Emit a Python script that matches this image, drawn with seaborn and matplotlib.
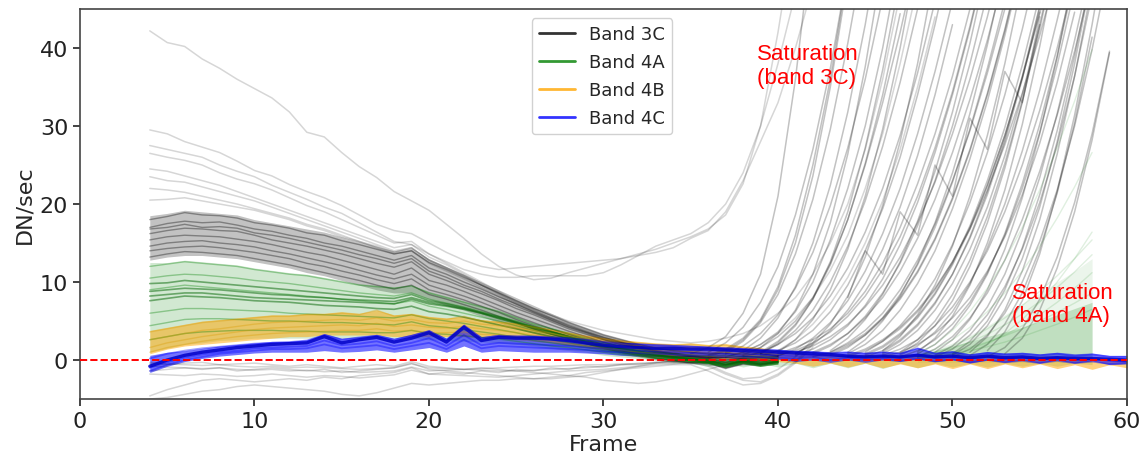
import numpy as np
import pandas as pd
import matplotlib
matplotlib.use("Agg")
import matplotlib.pyplot as plt
from matplotlib.lines import Line2D
import seaborn as sns

FIRST_FRAME = 4

# ---------------- Band 3C ----------------
b3c_core_hi = [18.5, 18.8, 19.2, 19.0, 18.8, 18.6, 18.0, 17.6, 17.2, 16.8, 16.4, 15.8, 15.2, 14.6,
               14.0, 14.4, 13.0, 12.0, 11.0, 10.0, 9.0, 8.0, 7.0, 6.0, 5.0, 4.2, 3.4, 2.8, 2.2, 1.7,
               1.4, 1.2, 1.0, 1.0, 1.0, 0.9, 0.9]
b3c_core_lo = [12.8, 13.2, 13.4, 13.4, 13.2, 13.0, 12.6, 12.2, 11.8, 11.2, 10.8, 10.2, 9.6, 9.0,
               8.6, 8.6, 7.8, 7.0, 6.4, 5.6, 4.8, 4.0, 3.4, 2.8, 2.2, 1.7, 1.2, 0.8, 0.4, 0.0,
               -0.3, -0.5, -0.6, -1.0, -0.6, -0.8, -0.5]

b3c_core_1 = [18.0, 18.4, 18.9, 18.6, 18.5, 18.2, 17.6, 17.3, 16.9, 16.3, 16.0, 15.3, 14.8, 14.2, 13.6, 14.0,
              12.5, 11.6, 10.6, 9.6, 8.6, 7.6, 6.6, 5.7, 4.8, 4.0, 3.2, 2.6, 2.0, 1.5, 1.2, 1.0, 0.8, 0.9,
              0.7, 0.8, 0.6]
b3c_core_2 = [17.0, 17.5, 17.8, 17.6, 17.7, 17.3, 16.8, 16.5, 16.0, 15.6, 15.0, 14.6, 14.0, 13.4, 12.8, 13.4,
              11.8, 11.0, 10.0, 9.1, 8.1, 7.2, 6.2, 5.3, 4.4, 3.6, 2.9, 2.3, 1.8, 1.2, 0.9, 0.6, 0.5, 0.3,
              0.5, 0.4, 0.5]
b3c_core_3 = [16.2, 16.6, 16.9, 16.8, 16.6, 16.5, 16.0, 15.4, 15.0, 14.6, 14.1, 13.6, 13.0, 12.4, 11.9, 12.6,
              11.0, 10.2, 9.3, 8.5, 7.6, 6.6, 5.8, 4.9, 4.0, 3.3, 2.6, 2.0, 1.5, 0.9, 0.6, 0.4, 0.2, -0.3,
              0.2, 0.0, 0.3]
b3c_core_4 = [15.4, 15.8, 16.0, 15.9, 15.8, 15.5, 15.2, 14.8, 14.3, 13.8, 13.4, 12.8, 12.2, 11.6, 11.0, 11.8,
              10.2, 9.6, 8.8, 7.9, 7.0, 6.1, 5.3, 4.5, 3.7, 3.0, 2.3, 1.7, 1.2, 0.7, 0.4, 0.1, 0.0, -0.6,
              -0.1, -0.3, 0.1]
b3c_core_5 = [14.6, 15.0, 15.2, 15.3, 15.0, 14.8, 14.5, 14.0, 13.6, 13.1, 12.6, 12.1, 11.5, 10.9, 10.4, 11.0,
              9.6, 8.9, 8.2, 7.4, 6.5, 5.6, 4.8, 4.0, 3.3, 2.6, 2.0, 1.4, 1.0, 0.5, 0.2, -0.1, -0.2, -0.8,
              -0.3, -0.5, -0.1]
b3c_core_6 = [14.0, 14.3, 14.5, 14.6, 14.4, 14.1, 13.8, 13.4, 13.0, 12.4, 12.0, 11.4, 10.9, 10.3, 9.8, 10.4,
              9.0, 8.4, 7.7, 6.9, 6.1, 5.2, 4.4, 3.7, 3.0, 2.3, 1.7, 1.2, 0.8, 0.3, 0.0, -0.3, -0.3, -1.0,
              -0.4, -0.6, -0.2]
b3c_core_7 = [13.2, 13.6, 13.9, 13.8, 13.6, 13.4, 13.0, 12.6, 12.2, 11.7, 11.2, 10.7, 10.2, 9.6, 9.1, 9.6,
              8.4, 7.8, 7.1, 6.4, 5.6, 4.8, 4.0, 3.3, 2.7, 2.1, 1.5, 1.0, 0.6, 0.2, -0.1, -0.4, -0.4, -1.1,
              -0.5, -0.7, -0.3]
b3c_core_8 = [16.8, 17.0, 17.4, 17.0, 17.1, 16.9, 16.3, 16.0, 15.6, 15.1, 14.6, 14.1, 13.5, 13.0, 12.4, 13.0,
              11.4, 10.6, 9.6, 8.8, 7.8, 6.9, 6.0, 5.1, 4.2, 3.5, 2.7, 2.2, 1.6, 1.1, 0.8, 0.5, 0.4, 0.0,
              0.3, 0.2, 0.4]

b3c_high_1 = [42.2, 40.7, 40.2, 38.6, 37.4, 36.0, 34.8, 33.6, 31.8, 29.2, 28.6, 26.6, 24.8, 23.4, 21.6, 20.4,
              19.2, 17.4, 15.6, 13.6, 12.0, 10.9, 10.3, 10.5, 11.2, 11.8, 12.4, 13.0, 13.6, 14.2, 15.0, 15.8,
              16.8, 18.6, 22.6, 30.0, 42.0, 56.0]
b3c_high_2 = [29.5, 29.0, 28.0, 27.3, 26.6, 25.5, 24.3, 23.6, 22.5, 21.6, 20.8, 19.8, 18.6, 17.4, 16.6, 16.2,
              15.0, 13.8, 12.8, 12.0, 11.6, 11.8, 12.0, 12.2, 12.4, 12.6, 12.8, 13.0, 13.4, 13.8, 14.4, 15.6,
              16.6, 19.0, 23.0, 28.0, 33.0, 40.0, 48.0]
b3c_high_3 = [27.5, 27.0, 26.5, 26.0, 25.0, 24.2, 23.5, 22.4, 21.5, 20.6, 19.6, 18.8, 17.6, 16.4, 15.2, 14.8,
              13.6, 12.6, 11.6, 11.0, 10.6, 10.6, 10.8, 10.8, 10.8, 10.8, 11.2, 12.2, 13.4, 14.6, 15.4, 16.2,
              17.6, 20.0, 24.0, 30.0, 38.0, 47.0]
b3c_high_4 = [26.5, 26.0, 25.6, 25.0, 24.0, 23.2, 22.6, 21.8, 20.8, 19.8, 19.0, 18.0, 17.0, 16.0, 15.0, 15.2,
              13.6, 12.4, 11.2, 10.0, 8.8, 7.6, 6.6, 5.8, 5.0, 4.4, 3.8, 3.4, 3.0, 2.6, 2.4, 2.2, 2.4, 2.8,
              3.4, 4.4, 6.0, 8.0, 11.0, 15.0, 20.0, 27.0, 36.0, 47.0]
b3c_high_5 = [24.5, 24.2, 23.6, 23.0, 22.4, 21.6, 20.8, 20.0, 19.2, 18.4, 17.6, 16.8, 16.0, 15.2, 14.4, 14.8,
              13.2, 12.2, 11.0, 9.8, 8.6, 7.4, 6.4, 5.4, 4.6, 3.8, 3.0, 2.4, 1.8, 1.2, 0.8, 0.6, 0.4, 0.2,
              0.4, 0.4, 0.6]
b3c_high_6 = [23.5, 23.0, 22.8, 22.2, 21.6, 21.0, 20.4, 19.6, 18.8, 18.0, 17.2, 16.4, 15.6, 14.8, 14.0, 14.4,
              12.8, 11.8, 10.8, 9.6, 8.4, 7.2, 6.2, 5.2, 4.3, 3.6, 2.8, 2.2, 1.6, 1.0, 0.6, 0.4, 0.2, 0.0,
              0.2, 0.2, 0.4]
b3c_high_7 = [22.0, 21.8, 21.5, 21.0, 20.5, 20.0, 19.4, 18.8, 18.2, 17.4, 16.8, 16.0, 15.2, 14.4, 13.6, 14.0,
              12.4, 11.4, 10.4, 9.3, 8.2, 7.1, 6.1, 5.1, 4.2, 3.4, 2.6, 2.0, 1.4, 0.8, 0.4, 0.2, 0.0, -0.4,
              0.0, -0.1, 0.2]
b3c_high_8 = [20.5, 20.6, 20.8, 20.4, 20.0, 19.6, 19.2, 18.6, 18.0, 17.2, 16.6, 15.8, 15.2, 14.6, 13.8, 14.4,
              12.8, 11.8, 10.8, 9.6, 8.5, 7.4, 6.4, 5.4, 4.5, 3.7, 2.9, 2.3, 1.7, 1.1, 0.7, 0.4, 0.2, -0.2,
              0.2, 0.0, 0.3]

b3c_low_1 = [-4.6, -3.8, -3.2, -2.6, -2.4, -2.6, -2.8, -2.6, -2.4, -2.6, -2.2, -2.4, -2.0, -1.8, -1.6, -1.0,
             -1.8, -1.6, -1.8, -1.4, -1.6, -1.2, -1.4, -1.0, -1.2, -0.8, -0.9, -0.6, -0.6, -0.3, -0.2, 0.0,
             0.2, 0.4, 1.0, 2.0, 3.4, 5.4, 8.0, 11.5, 16.0, 22.0, 29.0, 38.0, 48.0]
b3c_low_2 = [-5.0, -4.8, -4.4, -4.0, -3.8, -3.4, -3.2, -3.4, -3.6, -3.8, -4.0, -4.4, -4.6, -4.2, -3.6, -3.0,
             -3.2, -3.0, -2.8, -2.6, -2.6, -2.4, -2.4, -2.2, -2.0, -1.6, -1.4, -1.2, -1.0, -0.8, -0.6, -0.6,
             -1.4, -2.4, -3.2, -3.0, -2.0, -0.4, 1.6]
b3c_low_3 = [-1.4, -1.2, -1.0, -1.2, -1.0, -1.4, -1.2, -1.0, -1.2, -1.4, -1.2, -1.6, -1.4, -1.2, -1.0, -0.4,
             -1.2, -1.4, -1.6, -1.8, -2.0, -2.2, -2.4, -2.4, -2.2, -2.0, -1.6, -1.2, -0.8, -0.4, -0.2, 0.0,
             -0.6, -1.6, -2.4, -2.2, -1.2, 0.4, 2.6]
b3c_low_4 = [-0.5, -0.6, -0.4, -0.3, -0.6, -0.5, -0.4, -0.6, -0.8, -0.6, -0.8, -1.0, -0.8, -0.6, -0.8, -0.2,
             -0.8, -1.0, -1.2, -1.0, -1.2, -1.4, -1.6, -1.8, -2.0, -2.2, -2.6, -2.8, -3.0, -2.8, -2.4, -1.8,
             -1.2, -0.6, -0.2, 0.4, 1.2, 2.6, 4.6, 7.2, 10.6, 15.0, 20.4, 27.0, 35.0, 44.0]
b3c_low_5 = [-0.8, -0.9, -1.0, -1.1, -1.0, -1.2, -1.3, -1.2, -1.4, -1.3, -1.5, -1.4, -1.6, -1.5, -1.4, -0.9,
             -1.4, -1.3, -1.2, -1.1, -1.0, -0.9, -0.8, -0.8, -0.7, -0.6, -0.6, -0.5, -0.5, -0.4, -0.4, -0.3,
             -0.3, -0.3, -0.2, -0.1, 0.0]
b3c_low_6 = [-1.8, -1.9, -2.0, -1.8, -1.9, -2.1, -2.0, -1.8, -2.0, -2.2, -2.0, -2.1, -2.3, -2.1, -1.9, -1.3,
             -1.8, -1.9, -2.0, -2.1, -2.2, -2.0, -1.8, -1.6, -1.4, -1.3, -1.2, -1.0, -0.8, -0.6, -0.5, -0.3,
             -0.8, -1.8, -2.6, -2.8, -1.8, -0.2, 2.0]
b3c_low_7 = [-0.3, -0.5, -0.6, -0.7, -0.6, -0.8, -0.9, -0.8, -1.0, -0.9, -1.0, -1.1, -1.2, -1.1, -1.0, -0.5,
             -1.0, -1.1, -1.2, -1.3, -1.4, -1.4, -1.3, -1.2, -1.1, -1.0, -0.8, -0.6, -0.4, -0.3, -0.1, 0.1,
             0.3, 0.6]

# saturating Band 3C pixels: (first frame, DN/sec from that frame on)
b3c_saturating = [
    (35, [0.8, 1.6, 3.0, 6.0, 11.0, 21.0, 36.0, 55.0]),
    (36, [0.6, 1.4, 2.8, 5.2, 9.4, 16.0, 25.0, 36.0, 50.0]),
    (36, [1.0, 2.2, 4.2, 7.4, 12.0, 18.6, 27.0, 37.4, 50.0]),
    (36, [0.4, 1.2, 2.6, 5.0, 9.0, 15.0, 23.6, 35.0, 49.0]),
    (37, [0.4, 1.0, 2.0, 3.6, 6.2, 10.0, 15.4, 22.0, 30.0, 40.0, 52.0]),
    (37, [0.8, 1.8, 3.4, 5.8, 9.2, 13.8, 19.8, 27.2, 36.0, 46.4]),
    (37, [1.0, 2.4, 4.8, 8.4, 13.6, 20.6, 29.6, 40.6, 53.0]),
    (38, [0.8, 1.6, 3.0, 5.0, 8.0, 12.4, 18.0, 25.0, 33.0, 42.0, 52.0]),
    (38, [0.4, 1.0, 2.0, 3.4, 5.4, 8.2, 11.8, 16.4, 22.0, 28.8, 36.8, 46.0]),
    (38, [1.2, 2.8, 5.4, 9.4, 15.0, 22.4, 31.8, 43.0, 56.0]),
    (38, [0.6, 1.6, 3.4, 6.4, 11.0, 17.6, 26.4, 37.6, 51.0]),
    (39, [0.6, 1.2, 2.2, 3.8, 6.2, 9.6, 14.0, 19.4, 26.0, 34.0, 43.0, 53.0]),
    (39, [0.8, 2.0, 3.8, 6.4, 10.0, 14.6, 20.4, 27.4, 35.6, 45.0]),
    (39, [1.0, 2.4, 4.6, 7.8, 12.2, 18.0, 25.2, 34.0, 44.4]),
    (39, [0.8, 2.2, 4.4, 7.8, 12.6, 19.0, 27.2, 37.2, 49.0]),
    (40, [0.5, 1.4, 2.8, 4.8, 7.6, 11.4, 16.2, 22.0, 29.0, 37.0, 46.0]),
    (40, [0.8, 1.6, 2.6, 4.0, 6.0, 8.8, 12.4, 17.0, 22.6, 29.0, 36.4, 45.0]),
    (40, [0.6, 1.2, 2.2, 3.6, 5.6, 8.2, 11.6, 15.8, 21.0, 27.2, 34.4, 42.8, 52.0]),
    (40, [1.0, 2.6, 5.2, 9.0, 14.2, 21.0, 29.6, 40.0, 52.0]),
    (41, [0.6, 1.4, 2.6, 4.4, 7.0, 10.4, 14.8, 20.2, 26.6, 34.0, 42.4, 52.0]),
    (41, [1.0, 1.8, 3.0, 4.6, 6.8, 9.6, 13.2, 17.6, 22.8, 29.0, 36.0, 44.0, 53.0]),
    (41, [0.8, 2.0, 3.8, 6.4, 9.8, 14.2, 19.6, 26.2, 34.0, 43.0]),
    (41, [0.8, 2.2, 4.6, 8.2, 13.2, 19.8, 28.0, 38.0, 50.0]),
    (42, [0.8, 1.8, 3.4, 5.6, 8.6, 12.4, 17.2, 23.0, 30.0, 38.0, 47.0]),
    (42, [1.0, 2.0, 3.4, 5.4, 8.0, 11.4, 15.6, 20.6, 26.6, 33.4, 41.0, 49.6]),
    (42, [0.4, 1.0, 2.0, 3.4, 5.4, 8.0, 11.4, 15.6, 20.8, 27.0, 34.2, 42.4, 51.6]),
    (43, [0.6, 1.6, 3.2, 5.4, 8.4, 12.2, 17.0, 22.8, 29.6, 37.4, 46.0]),
    (43, [1.0, 2.2, 3.8, 6.0, 9.0, 12.8, 17.4, 23.0, 29.4, 36.8, 45.0]),
    (43, [0.8, 1.8, 3.2, 5.2, 7.8, 11.2, 15.4, 20.6, 26.8, 34.0, 42.2, 51.4]),
    (43, [1.2, 2.8, 5.2, 8.4, 12.6, 17.8, 24.2, 31.8, 40.6, 50.6]),
    (44, [0.8, 2.0, 3.8, 6.4, 9.8, 14.0, 19.4, 25.8, 33.2, 41.6, 51.0]),
    (44, [0.6, 1.4, 2.6, 4.2, 6.4, 9.2, 12.6, 16.8, 21.8, 27.6, 34.2, 41.6, 50.0]),
    (44, [1.0, 2.6, 5.0, 8.2, 12.4, 17.6, 24.0, 31.6, 40.4, 50.4]),
    (44, [0.4, 1.2, 2.4, 4.0, 6.2, 9.0, 12.6, 17.0, 22.4, 28.8, 36.2, 44.6]),
    (45, [0.6, 1.6, 3.2, 5.4, 8.4, 12.2, 16.8, 22.4, 28.8, 36.2, 44.4, 53.0]),
    (45, [1.0, 2.4, 4.4, 7.0, 10.4, 14.8, 20.2, 26.6, 34.0, 42.4, 52.0]),
    (45, [0.8, 1.8, 3.4, 5.6, 8.6, 12.4, 17.2, 23.0, 29.8, 37.8, 46.8]),
    (45, [0.4, 1.2, 2.6, 4.6, 7.4, 11.0, 15.6, 21.2, 28.0, 36.0, 45.2]),
    (46, [1.0, 2.4, 4.4, 7.2, 11.0, 15.8, 21.6, 28.4, 36.4, 45.4]),
    (46, [0.6, 1.4, 2.6, 4.4, 6.8, 10.0, 14.0, 19.0, 25.0, 32.0, 40.0, 49.0]),
    (46, [0.8, 2.0, 3.8, 6.4, 9.8, 14.2, 19.6, 26.2, 34.0, 43.0, 53.0]),
    (46, [0.4, 1.0, 2.0, 3.4, 5.4, 8.0, 11.4, 15.8, 21.2, 27.8, 35.6, 44.6]),
    (46, [1.2, 3.0, 5.8, 9.6, 14.6, 21.0, 28.8, 38.0, 48.6]),
    (47, [0.6, 1.8, 3.6, 6.2, 9.8, 14.4, 20.0, 26.8, 34.6, 43.6, 53.0]),
    (47, [1.0, 2.6, 5.0, 8.4, 12.8, 18.4, 25.2, 33.2, 42.4, 53.0]),
    (47, [0.8, 2.2, 4.4, 7.6, 12.0, 17.6, 24.6, 33.0, 43.0]),
    (47, [0.4, 1.2, 2.6, 4.6, 7.4, 11.2, 16.0, 22.0, 29.2, 37.8, 47.6]),
    (48, [0.8, 2.0, 4.0, 7.0, 11.0, 16.2, 22.6, 30.2, 39.0, 49.0]),
    (48, [0.4, 1.4, 3.0, 5.4, 8.6, 12.8, 18.0, 24.2, 31.4, 39.6, 49.0]),
    (48, [1.0, 2.8, 5.6, 9.6, 15.0, 21.8, 30.2, 40.2, 51.6]),
    (49, [0.6, 1.8, 3.8, 6.8, 11.0, 16.6, 23.4, 31.6, 41.0, 51.0]),
    (49, [0.4, 1.4, 3.2, 5.8, 9.4, 14.2, 20.2, 27.6, 36.4, 46.8]),
    (49, [1.0, 2.6, 5.2, 9.0, 14.2, 20.8, 29.0, 38.8, 50.4]),
    (50, [0.8, 2.4, 5.0, 9.0, 14.4, 21.2, 29.4, 39.0, 50.0]),
    (50, [0.4, 1.4, 3.2, 6.0, 10.0, 15.2, 21.8, 30.0, 39.8, 51.0]),
    (50, [0.6, 2.0, 4.4, 8.0, 13.0, 19.6, 28.0, 38.0, 49.6]),
    (51, [1.0, 3.0, 6.4, 11.4, 18.0, 26.4, 36.4, 48.0]),
    (51, [0.6, 2.0, 4.6, 8.6, 14.2, 21.4, 30.4, 41.4]),
    (52, [1.2, 3.6, 7.6, 13.6, 21.6, 31.4, 43.0, 56.0]),
    (52, [0.4, 1.6, 4.0, 7.8, 13.2, 20.2, 29.0, 39.6]),
    (53, [0.8, 2.8, 6.4, 11.8, 19.0, 28.2, 39.4]),
    (44, [8.0, 14.0, 11.0, 19.0, 16.0, 25.0, 21.0, 31.0, 27.0, 37.0, 33.0, 44.0]),
]

# ---------------- Band 4A ----------------
b4a_hi = [12.5, 12.5, 12.8, 12.6, 12.4, 12.2, 11.8, 11.5, 11.2, 11.0, 10.6, 10.2, 9.8, 9.6, 9.4, 9.6,
          8.8, 8.2, 7.6, 7.0, 6.4, 5.6, 4.8, 4.2, 3.6, 3.0, 2.4, 2.0, 1.6, 1.2, 1.0, 0.8, 0.7, 0.8,
          0.6, 0.7, 0.6, 0.6, 0.5, 0.6, 0.5, 0.6, 0.5, 0.6, 0.8, 1.2, 1.8, 2.4, 3.0, 3.6, 4.2, 5.0,
          5.8, 6.6, 7.4]
b4a_lo = [1.0, 1.5, 2.0, 2.2, 2.5, 2.6, 2.8, 2.8, 2.8, 2.8, 2.8, 2.8, 2.8, 2.8, 2.8, 2.8,
          2.6, 2.5, 2.4, 2.3, 2.2, 2.0, 1.8, 1.5, 1.2, 1.0, 0.6, 0.4, 0.2, 0.0, -0.3, -0.4, -0.8, -0.4,
          -0.9, -0.4, -0.9, -0.4, -1.0, -0.4, -1.0, -0.4, -1.1, -0.4, -1.0, -0.4, -0.9, -0.4, -0.9, -0.4,
          -0.8, -0.4, -0.8, -0.4, -0.6]
# faint rise of Band 4A near saturation, frames 48-58
b4a_rise_hi = [0.8, 1.4, 2.2, 3.2, 4.4, 5.8, 7.2, 8.6, 10.0, 11.4, 13.0]
b4a_rise_lo = [-0.3, -0.3, -0.3, -0.3, -0.3, -0.3, -0.3, -0.3, -0.3, -0.3, -0.3]

b4a_px_1 = [12.0, 12.3, 12.6, 12.4, 12.2, 12.0, 11.6, 11.3, 11.0, 10.8, 10.4, 10.0, 9.6, 9.4, 9.2, 9.5,
            8.6, 8.0, 7.4, 6.8, 6.2, 5.4, 4.6, 4.0, 3.4, 2.8, 2.2, 1.8, 1.4, 1.0, 0.8, 0.6, 0.5, 0.6,
            0.4, 0.5, 0.3]
b4a_px_2 = [10.5, 10.8, 11.0, 10.9, 10.7, 10.5, 10.2, 10.0, 9.8, 9.5, 9.2, 8.9, 8.6, 8.4, 8.2, 8.6,
            7.8, 7.3, 6.8, 6.2, 5.6, 5.0, 4.3, 3.7, 3.1, 2.6, 2.0, 1.6, 1.2, 0.8, 0.5, 0.3, 0.1, -0.2,
            0.1, -0.2, 0.0]
b4a_px_3 = [9.0, 9.3, 9.6, 9.4, 9.2, 9.0, 8.8, 8.6, 8.4, 8.2, 8.0, 7.8, 7.6, 7.4, 7.2, 7.6,
            6.9, 6.5, 6.0, 5.5, 5.0, 4.4, 3.8, 3.3, 2.8, 2.3, 1.8, 1.4, 1.0, 0.6, 0.3, 0.1, -0.1, -0.5,
            -0.1, -0.4, -0.2]
b4a_px_4 = [7.6, 7.9, 8.2, 8.1, 8.0, 7.8, 7.6, 7.5, 7.4, 7.2, 7.0, 6.9, 6.8, 6.6, 6.5, 6.9,
            6.2, 5.9, 5.5, 5.0, 4.5, 4.0, 3.5, 3.0, 2.5, 2.1, 1.6, 1.2, 0.8, 0.5, 0.2, 0.0, -0.3, -0.7,
            -0.2, -0.6, -0.3]
b4a_px_5 = [6.0, 6.3, 6.6, 6.6, 6.5, 6.4, 6.3, 6.2, 6.0, 5.9, 5.8, 5.7, 5.6, 5.5, 5.4, 5.8,
            5.3, 5.0, 4.7, 4.3, 3.9, 3.5, 3.0, 2.6, 2.2, 1.8, 1.4, 1.0, 0.7, 0.4, 0.1, -0.1, -0.4, -0.8,
            -0.3, -0.7, -0.4]
b4a_px_6 = [4.4, 4.8, 5.2, 5.3, 5.3, 5.2, 5.1, 5.0, 5.0, 4.9, 4.8, 4.8, 4.7, 4.6, 4.5, 4.9,
            4.4, 4.2, 3.9, 3.6, 3.3, 2.9, 2.5, 2.2, 1.9, 1.6, 1.2, 0.9, 0.6, 0.3, 0.0, -0.2, -0.4, -0.9,
            -0.4, -0.8, -0.5]
b4a_px_7 = [2.6, 3.0, 3.4, 3.6, 3.7, 3.8, 3.8, 3.8, 3.7, 3.7, 3.6, 3.6, 3.6, 3.5, 3.5, 3.8,
            3.4, 3.3, 3.1, 2.9, 2.7, 2.4, 2.1, 1.8, 1.6, 1.3, 1.0, 0.7, 0.5, 0.2, 0.0, -0.2, -0.4, -0.9,
            -0.4, -0.8, -0.5]
b4a_px_8 = [8.2, 8.4, 8.6, 8.6, 8.4, 8.2, 8.0, 7.9, 7.8, 7.7, 7.6, 7.5, 7.4, 7.3, 7.2, 7.8,
            7.2, 6.9, 6.5, 6.0, 5.4, 4.8, 4.2, 3.6, 3.0, 2.4, 1.9, 1.5, 1.1, 0.7, 0.4, 0.2, -0.1, -0.6,
            -0.1, -0.5, -0.2]
b4a_px_9 = [9.8, 9.9, 10.2, 10.0, 9.8, 9.6, 9.4, 9.2, 9.0, 8.8, 8.6, 8.4, 8.2, 8.0, 7.9, 8.4,
            7.6, 7.2, 6.7, 6.1, 5.5, 4.9, 4.2, 3.6, 3.0, 2.4, 1.9, 1.5, 1.1, 0.7, 0.4, 0.2, 0.0, -0.4,
            0.0, -0.3, -0.1]
b4a_px_10 = [8.8, 9.0, 9.2, 9.1, 9.0, 8.8, 8.6, 8.4, 8.3, 8.1, 8.0, 7.8, 7.7, 7.6, 7.5, 8.0,
             7.4, 7.0, 6.6, 6.0, 5.3, 4.7, 4.0, 3.4, 2.8, 2.3, 1.8, 1.4, 1.0, 0.6, 0.3, 0.1, -0.2, -0.6,
             -0.2, -0.5, -0.3]

# Band 4A pixels rising toward saturation: (first frame, DN/sec)
b4a_rising = [
    (48, [0.5, 1.0, 1.8, 2.8, 4.0, 5.4, 7.0, 8.8, 10.8, 13.0, 15.4]),
    (48, [0.3, 0.6, 1.0, 1.6, 2.3, 3.1, 4.0, 5.0, 6.1, 7.3, 8.6]),
    (48, [0.6, 1.4, 2.6, 4.2, 6.2, 8.6, 11.4, 14.6, 18.2, 22.2, 26.6]),
    (48, [0.2, 0.4, 0.8, 1.2, 1.7, 2.3, 3.0, 3.8, 4.6, 5.5, 6.5]),
    (48, [0.8, 2.0, 3.8, 6.2, 9.2, 12.8, 17.0, 21.8, 27.2, 33.2, 39.8]),
    (48, [0.4, 0.9, 1.5, 2.3, 3.3, 4.5, 5.9, 7.5, 9.3, 11.3, 13.5]),
    (49, [0.3, 0.8, 1.4, 2.2, 3.2, 4.4, 5.8, 7.4, 9.2, 11.2]),
    (50, [0.4, 1.0, 2.0, 3.4, 5.2, 7.4, 10.0, 13.0, 16.4]),
]

# ---------------- Band 4B ----------------
b4b_hi = [3.8, 4.2, 4.6, 5.0, 5.2, 5.4, 5.6, 5.8, 5.8, 6.0, 6.0, 6.2, 6.0, 6.4, 5.8, 6.0,
          5.6, 5.4, 5.6, 5.2, 5.0, 4.8, 4.4, 4.0, 3.6, 3.2, 2.9, 2.6, 2.4, 2.2, 2.1, 2.2, 2.0, 2.1,
          1.8, 1.6, 1.2, 1.0, 0.8, 0.8, 0.6, 0.7, 0.6, 0.6, 0.5, 0.6, 0.5, 0.6, 0.5, 0.5, 0.4, 0.5,
          0.4, 0.4, 0.3, 0.3, 0.2]
b4b_lo = [0.8, 1.4, 1.8, 2.0, 2.2, 2.4, 2.6, 2.8, 3.0, 3.0, 3.2, 3.2, 3.2, 3.2, 3.0, 3.0,
          3.0, 3.0, 3.0, 2.8, 2.8, 2.6, 2.4, 2.2, 1.9, 1.6, 1.4, 1.1, 0.9, 0.7, 0.5, 0.4, 0.2, 0.2,
          0.0, -0.1, -0.2, -0.4, -0.8, -0.4, -0.9, -0.4, -1.0, -0.5, -1.0, -0.5, -1.1, -0.5, -1.1, -0.5,
          -1.0, -0.5, -1.1, -0.6, -1.2, -0.6, -1.0]
b4b_px_1 = [3.6, 4.0, 4.4, 4.8, 5.0, 5.2, 5.4, 5.6, 5.6, 5.8, 5.8, 6.0, 5.8, 6.4, 5.6, 5.8,
            5.4, 5.2, 5.6, 5.0, 4.8, 4.6, 4.2, 3.8, 3.4, 3.0, 2.7, 2.4, 2.2, 2.0, 1.9, 2.0, 1.8, 1.9,
            1.6, 1.4, 1.0]
b4b_px_2 = [2.6, 3.0, 3.4, 3.8, 4.0, 4.3, 4.6, 4.8, 4.9, 5.0, 5.1, 5.2, 5.1, 5.4, 5.0, 5.2,
            4.8, 4.7, 5.0, 4.6, 4.4, 4.1, 3.8, 3.4, 3.0, 2.7, 2.4, 2.1, 1.8, 1.6, 1.5, 1.6, 1.4, 1.5,
            1.2, 1.0, 0.7]
b4b_px_3 = [1.6, 2.2, 2.6, 3.0, 3.3, 3.6, 3.9, 4.1, 4.2, 4.3, 4.4, 4.5, 4.4, 4.7, 4.3, 4.5,
            4.2, 4.1, 4.3, 4.0, 3.8, 3.5, 3.2, 2.9, 2.6, 2.3, 2.0, 1.7, 1.4, 1.2, 1.0, 1.1, 0.9, 1.0,
            0.7, 0.5, 0.3]
b4b_px_4 = [1.0, 1.6, 2.0, 2.4, 2.7, 3.0, 3.2, 3.4, 3.5, 3.6, 3.7, 3.8, 3.8, 4.0, 3.7, 3.8,
            3.5, 3.5, 3.6, 3.3, 3.2, 3.0, 2.7, 2.4, 2.1, 1.8, 1.5, 1.3, 1.0, 0.8, 0.6, 0.7, 0.5, 0.5,
            0.3, 0.2, 0.0]

# ---------------- Band 4C ----------------
b4c_hi = [0.6, 1.0, 1.2, 1.5, 1.8, 2.0, 2.2, 2.4, 2.4, 2.6, 3.4, 2.8, 3.0, 3.3, 2.8, 3.3,
          3.9, 2.8, 4.6, 3.0, 3.3, 3.2, 3.2, 3.1, 3.0, 2.8, 2.5, 2.3, 2.2, 2.1, 2.0, 1.9, 1.8, 1.7,
          1.6, 1.5, 1.4, 1.2, 1.2, 1.0, 1.1, 1.0, 1.1, 1.0, 1.6, 1.0, 1.2, 0.8, 1.1, 0.9, 1.0, 0.8,
          1.0, 0.8, 0.9, 0.6, 0.6]
b4c_lo = [-1.6, -0.8, -0.2, 0.2, 0.5, 0.7, 0.9, 1.0, 1.0, 1.0, 1.2, 1.0, 1.1, 1.3, 1.0, 1.3,
          1.6, 1.0, 1.8, 1.0, 1.2, 1.1, 1.0, 1.0, 1.0, 0.9, 0.8, 0.6, 0.5, 0.5, 0.4, 0.4, 0.3, 0.3,
          0.2, 0.2, 0.1, -0.2, 0.0, -0.3, 0.0, -0.3, 0.0, -0.2, 0.1, -0.2, 0.0, -0.4, 0.0, -0.3, 0.0,
          -0.4, 0.0, -0.4, -0.1, -0.6, -0.5]
b4c_px_main = [-0.8, 0.0, 0.6, 1.0, 1.3, 1.6, 1.8, 2.0, 2.1, 2.2, 3.0, 2.2, 2.6, 2.9, 2.3, 2.8,
               3.5, 2.3, 4.2, 2.5, 2.9, 2.8, 2.8, 2.7, 2.5, 2.2, 1.9, 1.7, 1.6, 1.5, 1.5, 1.4, 1.4, 1.3,
               1.2, 1.1, 1.0, 0.9, 0.8, 0.7, 0.5, 0.4, 0.5, 0.4, 0.6, 0.4, 0.5, 0.3, 0.5, 0.3, 0.4, 0.2,
               0.3, 0.2, 0.2, 0.1, 0.0]
b4c_px_2 = [-1.4, -0.6, 0.0, 0.4, 0.8, 1.0, 1.2, 1.4, 1.4, 1.5, 2.0, 1.5, 1.7, 1.9, 1.4, 1.8,
            2.2, 1.4, 2.6, 1.5, 1.8, 1.7, 1.6, 1.5, 1.4, 1.3, 1.1, 1.0, 0.9, 0.8, 0.7, 0.6, 0.6, 0.5,
            0.4, 0.4, 0.3, 0.2, 0.4, 0.0, 0.3, 0.0, 0.2, -0.1, 0.2, -0.2, 0.1, -0.3, 0.0, -0.3, -0.1,
            -0.4, -0.1, -0.4, -0.2, -0.5, -0.4]
b4c_px_3 = [0.2, 0.8, 1.2, 1.5, 1.7, 1.9, 2.1, 2.2, 2.3, 2.5, 3.2, 2.6, 2.9, 3.1, 2.6, 3.1,
            3.7, 2.6, 4.4, 2.8, 3.1, 3.0, 3.0, 2.9, 2.8, 2.6, 2.3, 2.1, 2.0, 1.9, 1.8, 1.7, 1.6, 1.5,
            1.4, 1.3, 1.2, 1.1, 1.0, 0.9, 1.0, 0.8, 1.0, 0.8, 1.5, 0.8, 1.0, 0.6, 0.9, 0.7, 0.8, 0.6,
            0.8, 0.5, 0.7, 0.4, 0.4]
b4c_px_4 = [-1.0, -0.3, 0.3, 0.7, 1.0, 1.2, 1.5, 1.6, 1.7, 1.8, 2.5, 1.9, 2.1, 2.4, 1.8, 2.2,
            2.8, 1.8, 3.2, 1.9, 2.2, 2.1, 2.0, 1.9, 1.8, 1.6, 1.5, 1.3, 1.2, 1.1, 1.0, 0.9, 0.9, 0.8,
            0.7, 0.7, 0.6, 0.5, 0.6, 0.4, 0.5, 0.3, 0.5, 0.3, 0.7, 0.3, 0.4, 0.2, 0.4, 0.2, 0.3, 0.1,
            0.3, 0.0, 0.1, -0.1, -0.2]

band_labels = ["Band 3C", "Band 4A", "Band 4B", "Band 4C"]
band_colors = ["black", "green", "orange", "blue"]

# ---------------- figure ----------------
sns.set_theme(style="ticks")
plt.rcParams["font.family"] = ["DejaVu Sans"]

fig = plt.figure(figsize=(11.46, 4.6), dpi=100)
ax = fig.add_axes([0.0698, 0.1304, 0.9136, 0.8478])


def as_frame(traces):
    rows = []
    for k, (start, vals) in enumerate(traces):
        for i, v in enumerate(vals):
            rows.append((k, start + i, v))
    return pd.DataFrame(rows, columns=["trace", "frame", "dn"])


def draw_traces(traces, color, alpha, lw):
    sns.lineplot(data=as_frame(traces), x="frame", y="dn", units="trace",
                 estimator=None, sort=False, color=color, alpha=alpha,
                 linewidth=lw, legend=False, ax=ax)


def draw_band(lo, hi, color, alpha, start=FIRST_FRAME):
    fr = np.arange(start, start + len(lo))
    ax.fill_between(fr, lo, hi, color=color, alpha=alpha, linewidth=0)


def from_first(*curves):
    return [(FIRST_FRAME, c) for c in curves]


# Band 3C
draw_traces(from_first(b3c_high_1, b3c_high_2, b3c_high_3, b3c_high_4,
                       b3c_high_5, b3c_high_6, b3c_high_7, b3c_high_8,
                       b3c_low_1, b3c_low_2, b3c_low_3, b3c_low_4,
                       b3c_low_5, b3c_low_6, b3c_low_7),
            "black", 0.16, 1.1)
draw_traces(b3c_saturating, "black", 0.24, 1.1)
draw_band(b3c_core_lo, b3c_core_hi, "black", 0.24)
draw_traces(from_first(b3c_core_1, b3c_core_2, b3c_core_3, b3c_core_4,
                       b3c_core_5, b3c_core_6, b3c_core_7, b3c_core_8),
            "black", 0.35, 1.0)

# Band 4A
draw_band(b4a_lo, b4a_hi, "green", 0.18)
draw_band(b4a_rise_lo, b4a_rise_hi, "green", 0.08, start=48)
draw_traces(from_first(b4a_px_1, b4a_px_2, b4a_px_3, b4a_px_5, b4a_px_6, b4a_px_7),
            "green", 0.35, 1.0)
draw_traces(from_first(b4a_px_4, b4a_px_8, b4a_px_9, b4a_px_10),
            "darkgreen", 0.5, 1.2)
draw_traces(b4a_rising, "green", 0.12, 1.0)

# Band 4B
draw_band(b4b_lo, b4b_hi, "orange", 0.5)
draw_traces(from_first(b4b_px_1, b4b_px_2, b4b_px_3, b4b_px_4),
            "#d89a00", 0.35, 1.0)

# Band 4C
draw_band(b4c_lo, b4c_hi, "blue", 0.55)
draw_traces(from_first(b4c_px_2, b4c_px_3, b4c_px_4), "blue", 0.4, 1.3)
draw_traces(from_first(b4c_px_main), "#0000c8", 0.85, 2.4)

ax.axhline(0, color="red", linestyle="--", linewidth=1.4, zorder=10)

ax.text(38.8, 40.6, "Saturation\n(band 3C)", color="red", fontsize=16,
        family="Liberation Sans", ha="left", va="top", linespacing=1.15, zorder=11)
ax.text(53.4, 10.0, "Saturation\n(band 4A)", color="red", fontsize=16,
        family="Liberation Sans", ha="left", va="top", linespacing=1.15, zorder=11)

ax.set_xlim(0, 60)
ax.set_ylim(-5, 45)
ax.set_xticks([0, 10, 20, 30, 40, 50, 60])
ax.set_yticks([0, 10, 20, 30, 40])
ax.tick_params(labelsize=16, length=5, width=1.2, colors="#222222")
ax.set_xlabel("Frame", fontsize=16, labelpad=2)
ax.set_ylabel("DN/sec", fontsize=16)
for s in ax.spines.values():
    s.set_visible(True)
    s.set_color("#444444")
    s.set_linewidth(1.2)

handles = [Line2D([0], [0], color=c, lw=2, alpha=0.8) for c in band_colors]
ax.legend(handles, band_labels, loc="upper center", bbox_to_anchor=(0.4986, 1.0),
          fontsize=13, labelspacing=0.55, frameon=True, framealpha=0.9,
          edgecolor="#cccccc", fancybox=True)

fig.savefig("out.png", dpi=100)
